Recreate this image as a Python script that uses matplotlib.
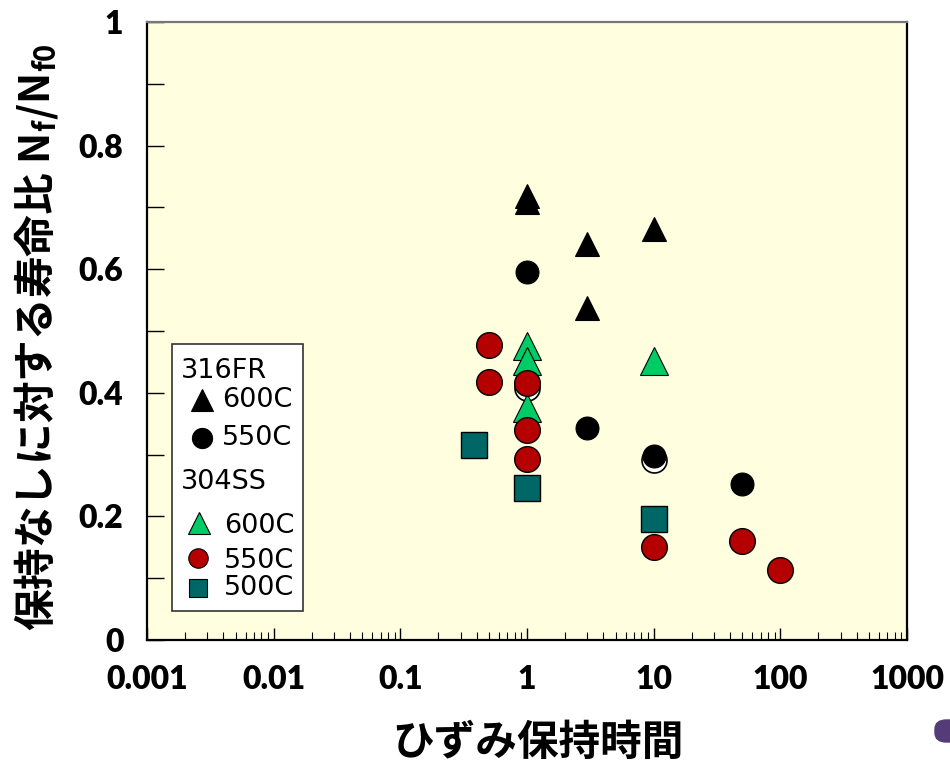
import matplotlib
matplotlib.use("Agg")
import matplotlib.pyplot as plt
from matplotlib.patches import Rectangle, FancyBboxPatch
from matplotlib.ticker import LogLocator, MultipleLocator, FixedLocator, NullFormatter

plt.rcParams['font.family'] = ['DejaVu Sans', 'Noto Sans CJK JP']
plt.rcParams['mathtext.fontset'] = 'custom'

# 316FR 600C (black triangles)
fr600_x = [1, 1, 3, 3, 10]
fr600_y = [0.718, 0.709, 0.640, 0.538, 0.665]
# 316FR 550C (black circles)
fr550_x = [1, 3, 10, 50]
fr550_y = [0.595, 0.343, 0.298, 0.252]
# open circles hidden behind other points
open_x = [1, 10]
open_y = [0.407, 0.292]
# 304SS 600C (green triangles)
ss600_x = [1, 1, 1, 10]
ss600_y = [0.476, 0.451, 0.375, 0.451]
# 304SS 550C (red circles)
ss550_x = [0.5, 0.5, 1, 1, 1, 10, 50, 100]
ss550_y = [0.477, 0.417, 0.416, 0.340, 0.293, 0.150, 0.160, 0.113]
# 304SS 500C (teal squares)
ss500_x = [0.38, 1, 10]
ss500_y = [0.315, 0.246, 0.196]

xticks = [0.001, 0.01, 0.1, 1, 10, 100, 1000]
xtick_labels = ['0.001', '0.01', '0.1', '1', '10', '100', '1000']
yticks = [0, 0.2, 0.4, 0.6, 0.8, 1.0]
ytick_labels = ['0', '0.2', '0.4', '0.6', '0.8', '1']

black = '#000000'
green = '#00CC66'
red = '#B40000'
teal = '#006666'

fig = plt.figure(figsize=(9.5, 7.67), dpi=100)
W, H = 950, 767
L, R, T, B = 147, 907, 22, 640
ax = fig.add_axes([L / W, 1 - B / H, (R - L) / W, (B - T) / H])
ax.set_facecolor('#FFFFE0')

ax.plot(open_x, open_y, 'o', ms=18, mfc='white', mec='black', mew=1.2, ls='none', zorder=2)
ax.plot(fr550_x, fr550_y, 'o', ms=16.5, mfc=black, mec=black, mew=0.8, ls='none', zorder=3)
ax.plot(fr600_x, fr600_y, '^', ms=17, mfc=black, mec=black, mew=0.8, ls='none', zorder=3)
ax.plot(ss600_x, ss600_y, '^', ms=19.5, mfc=green, mec='black', mew=0.8, ls='none', zorder=4)
ax.plot(ss550_x, ss550_y, 'o', ms=18.5, mfc=red, mec='black', mew=1.0, ls='none', zorder=5)
ax.plot(ss500_x, ss500_y, 's', ms=18.5, mfc=teal, mec='black', mew=1.0, ls='none', zorder=5)

ax.set_xscale('log')
ax.set_xlim(0.001, 1000)
ax.set_ylim(0, 1)
ax.xaxis.set_major_locator(FixedLocator(xticks))
ax.set_xticklabels(xtick_labels)
ax.xaxis.set_minor_locator(LogLocator(base=10, subs=range(2, 10), numticks=20))
ax.xaxis.set_minor_formatter(NullFormatter())
ax.set_yticks(yticks)
ax.set_yticklabels(ytick_labels)
ax.yaxis.set_minor_locator(MultipleLocator(0.1))

ax.tick_params(axis='both', which='both', direction='in', top=False, right=False)
ax.tick_params(axis='x', which='major', length=9, width=1, pad=18, labelsize=23)
ax.tick_params(axis='x', which='minor', length=6, width=0.8)
ax.tick_params(axis='y', which='major', length=12, width=1, pad=17, labelsize=23)
ax.tick_params(axis='y', which='minor', length=12, width=1)
for lab in ax.get_xticklabels() + ax.get_yticklabels():
    lab.set_fontweight('heavy')
    lab.set_family(['Lato', 'DejaVu Sans'])
for s in ['left', 'bottom', 'right']:
    ax.spines[s].set_linewidth(1.6)
ax.spines['top'].set_color('#777777')
ax.spines['top'].set_linewidth(1.6)

ax.set_ylabel('保持なしに対する寿命比 N$_{\\mathregular{f}}$/N$_{\\mathregular{f0}}$',
              family='Noto Sans CJK JP', fontsize=30, fontweight='bold')
ax.yaxis.set_label_coords(-0.114, 0.49)
ax.set_xlabel('ひずみ保持時間', family='Noto Sans CJK JP', fontsize=30,
              fontweight='bold')
ax.xaxis.set_label_coords(0.514, -0.132)


def pa(px, py):
    return (px - L) / (R - L), (B - py) / (B - T)


# hand-built legend box
x0, y0 = pa(172, 611)
x1, y1 = pa(303, 344)
ax.add_patch(Rectangle((x0, y0), x1 - x0, y1 - y0, transform=ax.transAxes,
                       facecolor='white', edgecolor='#333333', lw=1.2, zorder=6))
leg_rows = [
    ('316FR', None, None, 181, 371),
    ('600C', ('^', black, 15.5), 202, 222, 400),
    ('550C', ('o', black, 14.5), 202, 222, 438),
    ('304SS', None, None, 181, 482),
    ('600C', ('^', green, 15.5), 199, 224, 526),
    ('550C', ('o', red, 14), 198, 224, 561),
    ('500C', ('s', teal, 13.5), 198, 224, 588),
]
for row in leg_rows:
    if row[1] is None:
        text, _, _, tx, ty = row
        ax.text(*pa(tx, ty), text, transform=ax.transAxes, fontsize=19.5,
                va='center', ha='left', zorder=7)
    else:
        text, (mk, col, ms), mx, tx, ty = row
        my = ty - 3 if col in (green, red) else ty
        ax.plot(*[[v] for v in pa(mx, my)], mk, ms=ms, mfc=col,
                mec='black', mew=0.8, transform=ax.transAxes, zorder=7, clip_on=False)
        ax.text(*pa(tx, ty), text, transform=ax.transAxes, fontsize=19.5,
                va='center', ha='left', zorder=7)

# fragment of a logo cut by the picture edge
fig.patches.append(FancyBboxPatch((935 / W, 1 - 742 / H), 40 / W, 22 / H,
                                  boxstyle='round,pad=0,rounding_size=0.012',
                                  transform=fig.transFigure, color='#553C78'))
fig.patches.append(FancyBboxPatch((935 / W, 1 - 790 / H), 40 / W, 22 / H,
                                  boxstyle='round,pad=0,rounding_size=0.012',
                                  transform=fig.transFigure, color='#553C78'))

fig.savefig('out.png', dpi=100)
